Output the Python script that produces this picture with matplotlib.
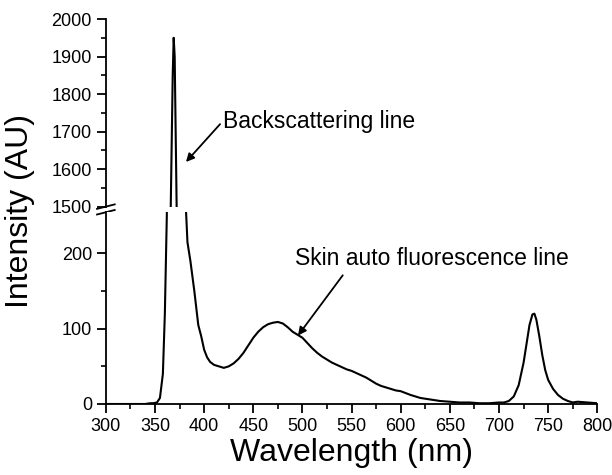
import matplotlib
matplotlib.use("Agg")
import matplotlib.pyplot as plt
from matplotlib.ticker import MultipleLocator, FixedLocator

plt.rcParams["font.family"] = ["Liberation Sans", "DejaVu Sans"]

# spectrum (nm, AU)
wavelength = [300, 320, 340, 345, 348, 352, 355, 358, 360, 362, 364, 366, 368, 369,
              370, 371, 372, 374, 377, 380, 383, 386, 390, 394, 397, 400, 403, 406,
              410, 415, 420, 425, 430, 435, 440, 445, 450, 455, 460, 465, 470, 475,
              480, 485, 490, 495, 500, 505, 510, 515, 520, 525, 530, 535, 540, 545,
              550, 555, 560, 565, 570, 575, 580, 585, 590, 595, 600, 610, 620, 630,
              640, 650, 660, 670, 680, 690, 700, 705, 710, 715, 720, 725, 728, 731,
              734, 736, 738, 741, 744, 747, 750, 755, 760, 765, 770, 775, 780, 790, 800]
intensity = [0, 0, 0, 1, 1, 2, 8, 40, 120, 250, 600, 1500, 1850, 1950,
             1900, 1700, 1500, 1000, 500, 300, 215, 190, 150, 105, 90, 72, 62, 56,
             52, 50, 48, 50, 54, 60, 68, 78, 88, 96, 102, 106, 108, 109,
             107, 102, 96, 92, 88, 81, 74, 68, 63, 59, 55, 52, 49, 46,
             44, 41, 38, 35, 31, 27, 24, 22, 20, 18, 17, 12, 8, 6,
             4, 3, 2, 2, 1, 1, 2, 2, 4, 10, 25, 55, 80, 105,
             119, 120, 112, 90, 65, 45, 32, 20, 12, 7, 4, 2, 3, 2, 1]

x_ticks = [300, 350, 400, 450, 500, 550, 600, 650, 700, 750, 800]
top_ticks = [1500, 1600, 1700, 1800, 1900, 2000]
bottom_ticks = [0, 100, 200]

fig = plt.figure(figsize=(6.12, 4.75), dpi=100)
ax_top = fig.add_axes([0.173, 0.565, 0.803, 0.395])
ax_bot = fig.add_axes([0.173, 0.1495, 0.803, 0.404])

for ax in (ax_top, ax_bot):
    ax.plot(wavelength, intensity, color="black", lw=1.5)
    ax.set_xlim(300, 800)
    ax.spines["right"].set_visible(False)
    ax.spines["top"].set_visible(False)
    for s in ("left", "bottom"):
        ax.spines[s].set_linewidth(1.3)
    ax.tick_params(which="major", direction="out", length=6.5, width=1.3, labelsize=13)
    ax.tick_params(which="minor", direction="out", length=3.5, width=1.2)

ax_top.set_ylim(1500, 2000)
ax_top.set_yticks(top_ticks)
ax_top.yaxis.set_minor_locator(MultipleLocator(50))
ax_top.spines["bottom"].set_visible(False)
ax_top.tick_params(axis="x", which="both", bottom=False, labelbottom=False)

ax_bot.set_ylim(0, 255)
ax_bot.set_yticks(bottom_ticks)
ax_bot.yaxis.set_minor_locator(FixedLocator([50, 150]))
ax_bot.set_xticks(x_ticks)
ax_bot.xaxis.set_minor_locator(MultipleLocator(25))
ax_bot.set_xlabel("Wavelength (nm)", fontsize=23, labelpad=2)

# break marks on the y axis
for dy in (0.0, 0.03):
    ax_top.plot([-0.018, 0.018], [-0.03 + dy - 0.012, -0.03 + dy + 0.012],
                transform=ax_top.transAxes, color="black", lw=1.3, clip_on=False)

fig.text(0.033, 0.555, "Intensity (AU)", rotation=90, ha="center", va="center",
         fontsize=23)

ax_top.annotate("Backscattering line", xy=(381.5, 1619), xytext=(419, 1728),
                fontsize=16.5, va="center", ha="left",
                arrowprops=dict(arrowstyle="-|>", color="black", lw=1.3,
                                mutation_scale=12, shrinkA=0, shrinkB=0,
                                relpos=(0, 0.5)))
ax_bot.annotate("Skin auto fluorescence line", xy=(495.5, 91), xytext=(492, 193),
                fontsize=16.5, va="center", ha="left")
ax_bot.annotate("", xy=(495.5, 91), xytext=(541, 171),
                arrowprops=dict(arrowstyle="-|>", color="black", lw=1.3,
                                mutation_scale=12, shrinkA=0, shrinkB=0))

fig.savefig("out.png", dpi=100)
